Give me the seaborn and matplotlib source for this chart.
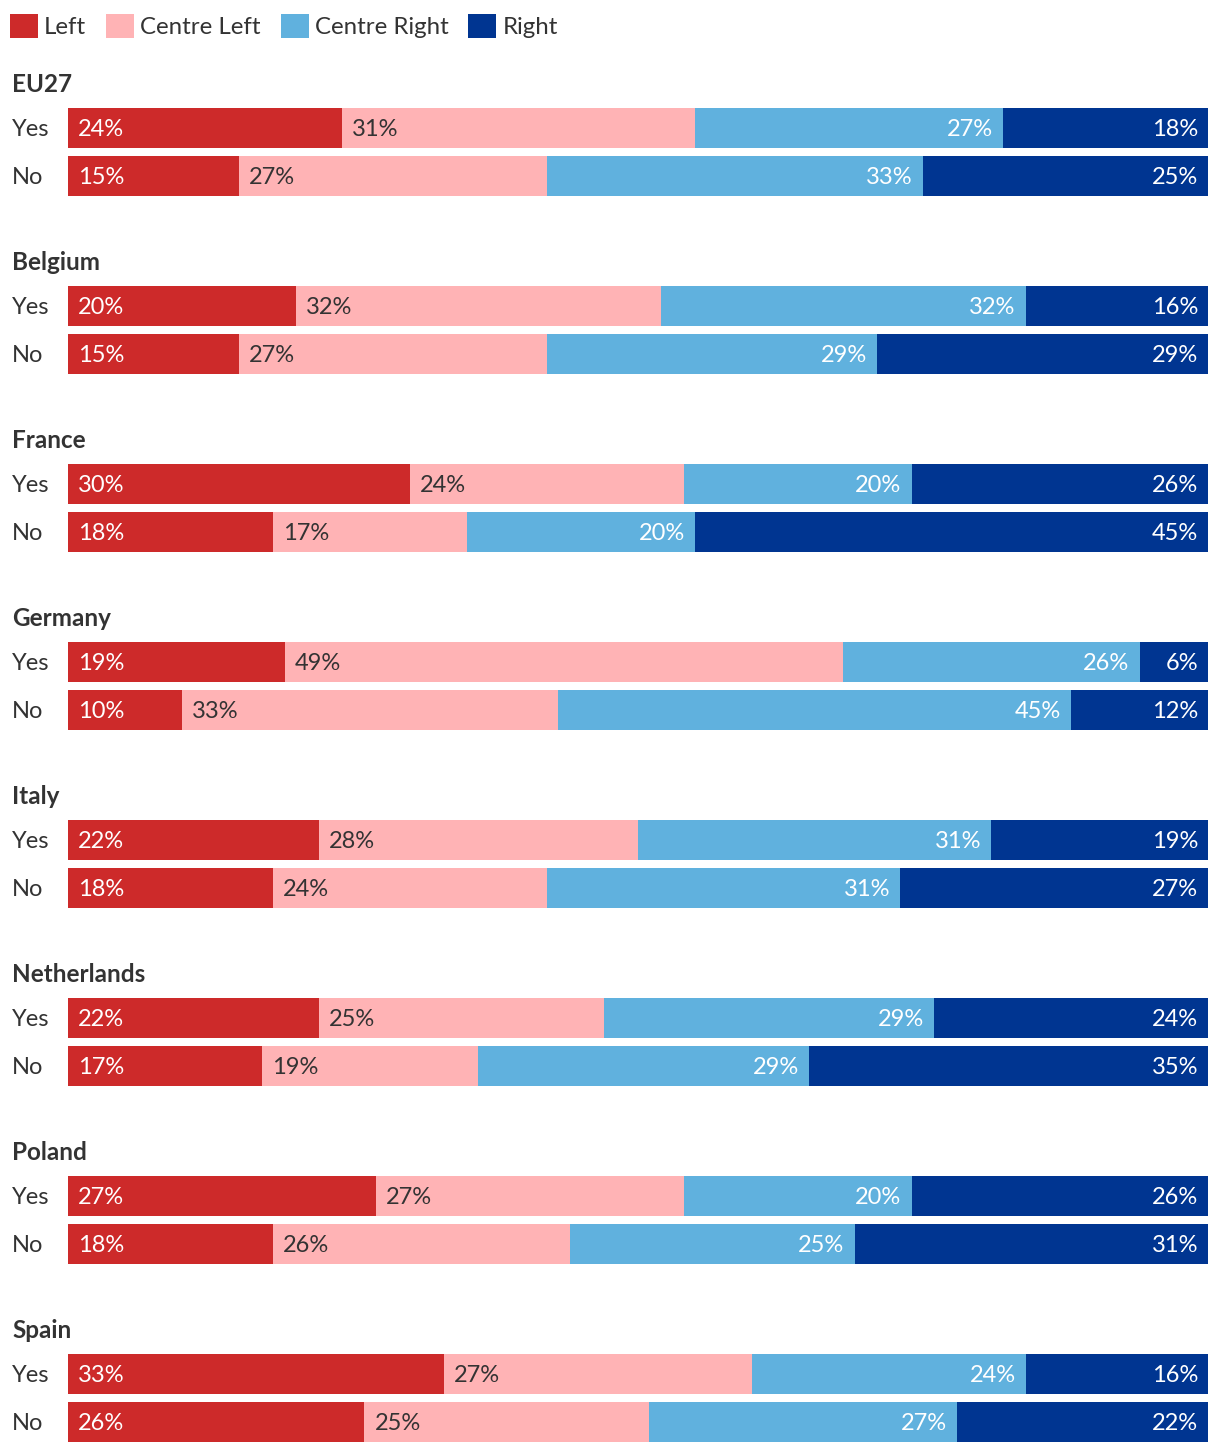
import matplotlib
matplotlib.use('Agg')
import matplotlib.pyplot as plt
import matplotlib.transforms as mtransforms
from matplotlib.patches import Patch
import seaborn as sns
import pandas as pd
import numpy as np

# ---------------- data ----------------
countries = ['EU27', 'Belgium', 'France', 'Germany', 'Italy', 'Netherlands', 'Poland', 'Spain']
answers = ['Yes', 'No']
categories = ['Left', 'Centre Left', 'Centre Right', 'Right']

yes_left         = [24, 20, 30, 19, 22, 22, 27, 33]
yes_centre_left  = [31, 32, 24, 49, 28, 25, 27, 27]
yes_centre_right = [27, 32, 20, 26, 31, 29, 20, 24]
yes_right        = [18, 16, 26, 6, 19, 24, 26, 16]

no_left          = [15, 15, 18, 10, 18, 17, 18, 26]
no_centre_left   = [27, 27, 17, 33, 24, 19, 26, 25]
no_centre_right  = [33, 29, 20, 45, 31, 29, 25, 27]
no_right         = [25, 29, 45, 12, 27, 35, 31, 22]

colors = ['#CD2A2A', '#FFB3B5', '#60B1DE', '#003591']
label_colors = ['white', '#333333', 'white', 'white']
TEXT = '#333333'

# ---------------- table ----------------
rows = []
for i, c in enumerate(countries):
    for ans, vals in (('Yes', [yes_left[i], yes_centre_left[i], yes_centre_right[i], yes_right[i]]),
                      ('No', [no_left[i], no_centre_left[i], no_centre_right[i], no_right[i]])):
        cum = np.cumsum(vals)
        row = {'country': c, 'answer': ans}
        for k in range(4):
            row[f'v{k}'] = vals[k]
            row[f'cum{k}'] = cum[k]
        rows.append(row)
df = pd.DataFrame(rows)

# ---------------- style ----------------
sns.set_style('white')
plt.rcParams['font.family'] = ['Lato', 'DejaVu Sans']

W, H = 1220, 1454
DPI = 100
fig = plt.figure(figsize=(W / DPI, H / DPI), dpi=DPI)

BAR_L, BAR_R = 68, 1208
FIRST_TOP = 108
PITCH = 178
AX_H = 88
BAR_W = 40 / 48
FS = 17
TFS = 17.5
CAP = 0.7165 * FS  # cap height in points
PX = 72 / DPI      # points per pixel

for i, c in enumerate(countries):
    top = FIRST_TOP + PITCH * i
    ax = fig.add_axes([BAR_L / W, 1 - (top + AX_H) / H, (BAR_R - BAR_L) / W, AX_H / H])
    sub = df[df['country'] == c]
    for k in reversed(range(4)):
        sns.barplot(data=sub, x=f'cum{k}', y='answer', order=answers, color=colors[k],
                    saturation=1, width=BAR_W, errorbar=None, orient='h', ax=ax,
                    linewidth=0)
    ax.set_xlim(0, 100)
    ax.set_ylim(1 + BAR_W / 2, -BAR_W / 2)
    ax.set_axis_off()

    for j, ans in enumerate(answers):
        r = sub[sub['answer'] == ans].iloc[0]
        for k in range(4):
            v = r[f'v{k}']
            end = r[f'cum{k}']
            start = end - v
            if k < 2:
                ax.annotate(f'{v}%', xy=(start, j), xytext=(10 * PX, -CAP / 2),
                            textcoords='offset points', ha='left', va='baseline',
                            color=label_colors[k], fontsize=FS)
            else:
                ax.annotate(f'{v}%', xy=(end, j), xytext=(-10 * PX, -CAP / 2),
                            textcoords='offset points', ha='right', va='baseline',
                            color=label_colors[k], fontsize=FS)
        trans = mtransforms.blended_transform_factory(fig.transFigure, ax.transData)
        ax.annotate(ans, xy=(12 / W, j), xycoords=trans, xytext=(0, -CAP / 2),
                    textcoords='offset points', ha='left', va='baseline',
                    color=TEXT, fontsize=FS, annotation_clip=False)

    fig.text(12 / W, 1 - (top - 16) / H, c, fontsize=TFS, fontweight='bold',
             color=TEXT, ha='left', va='baseline')

# ---------------- legend ----------------
LFS = 17.3
handles = [Patch(facecolor=colors[k], edgecolor='none', label=categories[k]) for k in range(4)]
lfs_px = LFS / PX
fig.legend(handles=handles, loc='upper left', bbox_to_anchor=(10 / W, 1 - 14 / H),
           ncol=4, frameon=False, fontsize=LFS, borderpad=0, borderaxespad=0,
           handlelength=28 / lfs_px, handleheight=28 / lfs_px,
           handletextpad=6 / lfs_px, columnspacing=20 / lfs_px, labelcolor=TEXT)

fig.savefig('out.png', dpi=DPI)
